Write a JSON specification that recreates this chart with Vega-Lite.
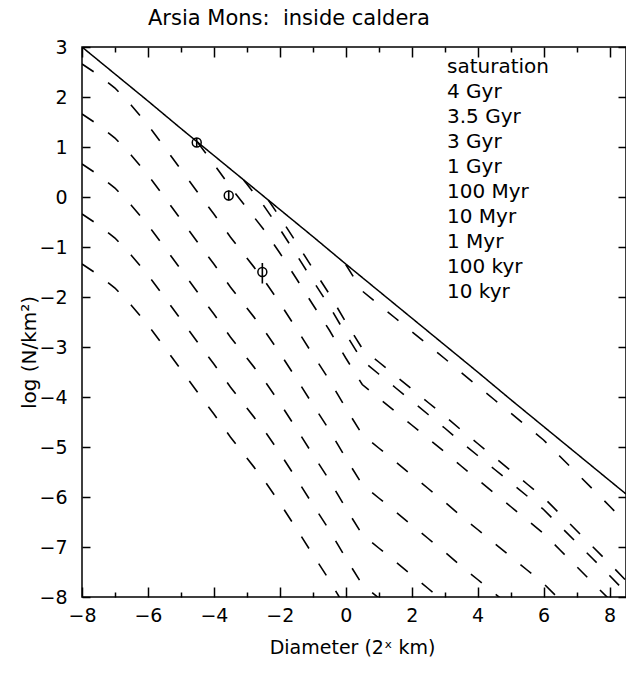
{
  "$schema": "https://vega.github.io/schema/vega-lite/v6.json",
  "width": 544,
  "height": 550,
  "autosize": {"type": "none"},
  "padding": {"left": 82, "top": 47, "right": 0, "bottom": 79},
  "background": "white",
  "title": {"text": "Arsia Mons:\u00a0 inside caldera", "anchor": "start", "frame": "group", "dx": 66, "offset": 0, "dy": 12, "baseline": "bottom", "fontSize": 21, "font": "DejaVu Sans", "fontWeight": "normal", "color": "black"},
  "config": {
    "view": {"stroke": "black", "strokeWidth": 1.5},
    "axis": {"domain": false, "grid": false, "tickColor": "black", "tickWidth": 1.5, "labelColor": "black", "labelFont": "DejaVu Sans", "labelFontSize": 19, "titleFont": "DejaVu Sans", "titleFontSize": 19, "titleFontWeight": "normal", "titleColor": "black", "labelFlush": false, "labelOverlap": false}
  },
  "datasets": {
    "sat": [
      {"x": -8, "y": 3.0, "series": "saturation"},
      {"x": -7, "y": 2.46, "series": "saturation"},
      {"x": -6, "y": 1.92, "series": "saturation"},
      {"x": -5, "y": 1.37, "series": "saturation"},
      {"x": -4, "y": 0.83, "series": "saturation"},
      {"x": -3, "y": 0.29, "series": "saturation"},
      {"x": -2, "y": -0.25, "series": "saturation"},
      {"x": -1, "y": -0.79, "series": "saturation"},
      {"x": 0, "y": -1.34, "series": "saturation"},
      {"x": 1, "y": -1.88, "series": "saturation"},
      {"x": 2, "y": -2.42, "series": "saturation"},
      {"x": 3, "y": -2.96, "series": "saturation"},
      {"x": 4, "y": -3.5, "series": "saturation"},
      {"x": 5, "y": -4.05, "series": "saturation"},
      {"x": 6, "y": -4.59, "series": "saturation"},
      {"x": 7, "y": -5.13, "series": "saturation"},
      {"x": 8, "y": -5.67, "series": "saturation"},
      {"x": 8.5, "y": -5.94, "series": "saturation"}
    ],
    "iso": [
      {"x": 0, "y": -1.35, "series": "4 Gyr"},
      {"x": 0.5, "y": -1.88, "series": "4 Gyr"},
      {"x": 1, "y": -2.15, "series": "4 Gyr"},
      {"x": 1.5, "y": -2.42, "series": "4 Gyr"},
      {"x": 2, "y": -2.69, "series": "4 Gyr"},
      {"x": 2.5, "y": -2.96, "series": "4 Gyr"},
      {"x": 3, "y": -3.23, "series": "4 Gyr"},
      {"x": 3.5, "y": -3.51, "series": "4 Gyr"},
      {"x": 4, "y": -3.78, "series": "4 Gyr"},
      {"x": 4.5, "y": -4.05, "series": "4 Gyr"},
      {"x": 5, "y": -4.32, "series": "4 Gyr"},
      {"x": 5.5, "y": -4.59, "series": "4 Gyr"},
      {"x": 6, "y": -4.86, "series": "4 Gyr"},
      {"x": 6.5, "y": -5.19, "series": "4 Gyr"},
      {"x": 7, "y": -5.52, "series": "4 Gyr"},
      {"x": 7.5, "y": -5.85, "series": "4 Gyr"},
      {"x": 8, "y": -6.18, "series": "4 Gyr"},
      {"x": 8.5, "y": -6.52, "series": "4 Gyr"},

      {"x": -2.35, "y": -0.06, "series": "3.5 Gyr"},
      {"x": -2, "y": -0.4, "series": "3.5 Gyr"},
      {"x": -1.5, "y": -0.91, "series": "3.5 Gyr"},
      {"x": -1, "y": -1.43, "series": "3.5 Gyr"},
      {"x": -0.5, "y": -1.94, "series": "3.5 Gyr"},
      {"x": 0, "y": -2.5, "series": "3.5 Gyr"},
      {"x": 0.5, "y": -3.03, "series": "3.5 Gyr"},
      {"x": 1, "y": -3.3, "series": "3.5 Gyr"},
      {"x": 1.5, "y": -3.57, "series": "3.5 Gyr"},
      {"x": 2, "y": -3.84, "series": "3.5 Gyr"},
      {"x": 2.5, "y": -4.11, "series": "3.5 Gyr"},
      {"x": 3, "y": -4.38, "series": "3.5 Gyr"},
      {"x": 3.5, "y": -4.66, "series": "3.5 Gyr"},
      {"x": 4, "y": -4.93, "series": "3.5 Gyr"},
      {"x": 4.5, "y": -5.2, "series": "3.5 Gyr"},
      {"x": 5, "y": -5.47, "series": "3.5 Gyr"},
      {"x": 5.5, "y": -5.74, "series": "3.5 Gyr"},
      {"x": 6, "y": -6.01, "series": "3.5 Gyr"},
      {"x": 6.5, "y": -6.34, "series": "3.5 Gyr"},
      {"x": 7, "y": -6.67, "series": "3.5 Gyr"},
      {"x": 7.5, "y": -7.0, "series": "3.5 Gyr"},
      {"x": 8, "y": -7.33, "series": "3.5 Gyr"},
      {"x": 8.5, "y": -7.67, "series": "3.5 Gyr"},

      {"x": -3.1, "y": 0.34, "series": "3 Gyr"},
      {"x": -3, "y": 0.26, "series": "3 Gyr"},
      {"x": -2.5, "y": -0.16, "series": "3 Gyr"},
      {"x": -2, "y": -0.64, "series": "3 Gyr"},
      {"x": -1.5, "y": -1.15, "series": "3 Gyr"},
      {"x": -1, "y": -1.67, "series": "3 Gyr"},
      {"x": -0.5, "y": -2.18, "series": "3 Gyr"},
      {"x": 0, "y": -2.74, "series": "3 Gyr"},
      {"x": 0.5, "y": -3.27, "series": "3 Gyr"},
      {"x": 1, "y": -3.54, "series": "3 Gyr"},
      {"x": 1.5, "y": -3.81, "series": "3 Gyr"},
      {"x": 2, "y": -4.08, "series": "3 Gyr"},
      {"x": 2.5, "y": -4.35, "series": "3 Gyr"},
      {"x": 3, "y": -4.62, "series": "3 Gyr"},
      {"x": 3.5, "y": -4.9, "series": "3 Gyr"},
      {"x": 4, "y": -5.17, "series": "3 Gyr"},
      {"x": 4.5, "y": -5.44, "series": "3 Gyr"},
      {"x": 5, "y": -5.71, "series": "3 Gyr"},
      {"x": 5.5, "y": -5.98, "series": "3 Gyr"},
      {"x": 6, "y": -6.25, "series": "3 Gyr"},
      {"x": 6.5, "y": -6.58, "series": "3 Gyr"},
      {"x": 7, "y": -6.91, "series": "3 Gyr"},
      {"x": 7.5, "y": -7.24, "series": "3 Gyr"},
      {"x": 8, "y": -7.57, "series": "3 Gyr"},
      {"x": 8.5, "y": -7.91, "series": "3 Gyr"},

      {"x": -4.5, "y": 1.1, "series": "1 Gyr"},
      {"x": -4, "y": 0.66, "series": "1 Gyr"},
      {"x": -3.5, "y": 0.2, "series": "1 Gyr"},
      {"x": -3, "y": -0.22, "series": "1 Gyr"},
      {"x": -2.5, "y": -0.64, "series": "1 Gyr"},
      {"x": -2, "y": -1.12, "series": "1 Gyr"},
      {"x": -1.5, "y": -1.63, "series": "1 Gyr"},
      {"x": -1, "y": -2.15, "series": "1 Gyr"},
      {"x": -0.5, "y": -2.66, "series": "1 Gyr"},
      {"x": 0, "y": -3.22, "series": "1 Gyr"},
      {"x": 0.5, "y": -3.75, "series": "1 Gyr"},
      {"x": 1, "y": -4.02, "series": "1 Gyr"},
      {"x": 1.5, "y": -4.29, "series": "1 Gyr"},
      {"x": 2, "y": -4.56, "series": "1 Gyr"},
      {"x": 2.5, "y": -4.83, "series": "1 Gyr"},
      {"x": 3, "y": -5.1, "series": "1 Gyr"},
      {"x": 3.5, "y": -5.38, "series": "1 Gyr"},
      {"x": 4, "y": -5.65, "series": "1 Gyr"},
      {"x": 4.5, "y": -5.92, "series": "1 Gyr"},
      {"x": 5, "y": -6.19, "series": "1 Gyr"},
      {"x": 5.5, "y": -6.46, "series": "1 Gyr"},
      {"x": 6, "y": -6.73, "series": "1 Gyr"},
      {"x": 6.5, "y": -7.06, "series": "1 Gyr"},
      {"x": 7, "y": -7.39, "series": "1 Gyr"},
      {"x": 7.5, "y": -7.72, "series": "1 Gyr"},
      {"x": 8, "y": -8.05, "series": "1 Gyr"},
      {"x": 8.5, "y": -8.39, "series": "1 Gyr"},

      {"x": -8, "y": 2.66, "series": "100 Myr"},
      {"x": -7.5, "y": 2.44, "series": "100 Myr"},
      {"x": -7, "y": 2.18, "series": "100 Myr"},
      {"x": -6.5, "y": 1.83, "series": "100 Myr"},
      {"x": -6, "y": 1.44, "series": "100 Myr"},
      {"x": -5.5, "y": 1.0, "series": "100 Myr"},
      {"x": -5, "y": 0.55, "series": "100 Myr"},
      {"x": -4.5, "y": 0.1, "series": "100 Myr"},
      {"x": -4, "y": -0.34, "series": "100 Myr"},
      {"x": -3.5, "y": -0.8, "series": "100 Myr"},
      {"x": -3, "y": -1.22, "series": "100 Myr"},
      {"x": -2.5, "y": -1.64, "series": "100 Myr"},
      {"x": -2, "y": -2.12, "series": "100 Myr"},
      {"x": -1.5, "y": -2.63, "series": "100 Myr"},
      {"x": -1, "y": -3.15, "series": "100 Myr"},
      {"x": -0.5, "y": -3.66, "series": "100 Myr"},
      {"x": 0, "y": -4.22, "series": "100 Myr"},
      {"x": 0.5, "y": -4.75, "series": "100 Myr"},
      {"x": 1, "y": -5.02, "series": "100 Myr"},
      {"x": 1.5, "y": -5.29, "series": "100 Myr"},
      {"x": 2, "y": -5.56, "series": "100 Myr"},
      {"x": 2.5, "y": -5.83, "series": "100 Myr"},
      {"x": 3, "y": -6.1, "series": "100 Myr"},
      {"x": 3.5, "y": -6.38, "series": "100 Myr"},
      {"x": 4, "y": -6.65, "series": "100 Myr"},
      {"x": 4.5, "y": -6.92, "series": "100 Myr"},
      {"x": 5, "y": -7.19, "series": "100 Myr"},
      {"x": 5.5, "y": -7.46, "series": "100 Myr"},
      {"x": 6, "y": -7.73, "series": "100 Myr"},
      {"x": 6.5, "y": -8.06, "series": "100 Myr"},

      {"x": -8, "y": 1.66, "series": "10 Myr"},
      {"x": -7.5, "y": 1.44, "series": "10 Myr"},
      {"x": -7, "y": 1.18, "series": "10 Myr"},
      {"x": -6.5, "y": 0.83, "series": "10 Myr"},
      {"x": -6, "y": 0.44, "series": "10 Myr"},
      {"x": -5.5, "y": 0.0, "series": "10 Myr"},
      {"x": -5, "y": -0.45, "series": "10 Myr"},
      {"x": -4.5, "y": -0.9, "series": "10 Myr"},
      {"x": -4, "y": -1.34, "series": "10 Myr"},
      {"x": -3.5, "y": -1.8, "series": "10 Myr"},
      {"x": -3, "y": -2.22, "series": "10 Myr"},
      {"x": -2.5, "y": -2.64, "series": "10 Myr"},
      {"x": -2, "y": -3.12, "series": "10 Myr"},
      {"x": -1.5, "y": -3.63, "series": "10 Myr"},
      {"x": -1, "y": -4.15, "series": "10 Myr"},
      {"x": -0.5, "y": -4.66, "series": "10 Myr"},
      {"x": 0, "y": -5.22, "series": "10 Myr"},
      {"x": 0.5, "y": -5.75, "series": "10 Myr"},
      {"x": 1, "y": -6.02, "series": "10 Myr"},
      {"x": 1.5, "y": -6.29, "series": "10 Myr"},
      {"x": 2, "y": -6.56, "series": "10 Myr"},
      {"x": 2.5, "y": -6.83, "series": "10 Myr"},
      {"x": 3, "y": -7.1, "series": "10 Myr"},
      {"x": 3.5, "y": -7.38, "series": "10 Myr"},
      {"x": 4, "y": -7.65, "series": "10 Myr"},
      {"x": 4.5, "y": -7.92, "series": "10 Myr"},
      {"x": 5, "y": -8.19, "series": "10 Myr"},

      {"x": -8, "y": 0.66, "series": "1 Myr"},
      {"x": -7.5, "y": 0.44, "series": "1 Myr"},
      {"x": -7, "y": 0.18, "series": "1 Myr"},
      {"x": -6.5, "y": -0.17, "series": "1 Myr"},
      {"x": -6, "y": -0.56, "series": "1 Myr"},
      {"x": -5.5, "y": -1.0, "series": "1 Myr"},
      {"x": -5, "y": -1.45, "series": "1 Myr"},
      {"x": -4.5, "y": -1.9, "series": "1 Myr"},
      {"x": -4, "y": -2.34, "series": "1 Myr"},
      {"x": -3.5, "y": -2.8, "series": "1 Myr"},
      {"x": -3, "y": -3.22, "series": "1 Myr"},
      {"x": -2.5, "y": -3.64, "series": "1 Myr"},
      {"x": -2, "y": -4.12, "series": "1 Myr"},
      {"x": -1.5, "y": -4.63, "series": "1 Myr"},
      {"x": -1, "y": -5.15, "series": "1 Myr"},
      {"x": -0.5, "y": -5.66, "series": "1 Myr"},
      {"x": 0, "y": -6.22, "series": "1 Myr"},
      {"x": 0.5, "y": -6.75, "series": "1 Myr"},
      {"x": 1, "y": -7.02, "series": "1 Myr"},
      {"x": 1.5, "y": -7.29, "series": "1 Myr"},
      {"x": 2, "y": -7.56, "series": "1 Myr"},
      {"x": 2.5, "y": -7.83, "series": "1 Myr"},
      {"x": 3, "y": -8.1, "series": "1 Myr"},

      {"x": -8, "y": -0.34, "series": "100 kyr"},
      {"x": -7.5, "y": -0.56, "series": "100 kyr"},
      {"x": -7, "y": -0.82, "series": "100 kyr"},
      {"x": -6.5, "y": -1.17, "series": "100 kyr"},
      {"x": -6, "y": -1.56, "series": "100 kyr"},
      {"x": -5.5, "y": -2.0, "series": "100 kyr"},
      {"x": -5, "y": -2.45, "series": "100 kyr"},
      {"x": -4.5, "y": -2.9, "series": "100 kyr"},
      {"x": -4, "y": -3.34, "series": "100 kyr"},
      {"x": -3.5, "y": -3.8, "series": "100 kyr"},
      {"x": -3, "y": -4.22, "series": "100 kyr"},
      {"x": -2.5, "y": -4.64, "series": "100 kyr"},
      {"x": -2, "y": -5.12, "series": "100 kyr"},
      {"x": -1.5, "y": -5.63, "series": "100 kyr"},
      {"x": -1, "y": -6.15, "series": "100 kyr"},
      {"x": -0.5, "y": -6.66, "series": "100 kyr"},
      {"x": 0, "y": -7.22, "series": "100 kyr"},
      {"x": 0.5, "y": -7.75, "series": "100 kyr"},
      {"x": 1, "y": -8.02, "series": "100 kyr"},

      {"x": -8, "y": -1.34, "series": "10 kyr"},
      {"x": -7.5, "y": -1.56, "series": "10 kyr"},
      {"x": -7, "y": -1.82, "series": "10 kyr"},
      {"x": -6.5, "y": -2.17, "series": "10 kyr"},
      {"x": -6, "y": -2.56, "series": "10 kyr"},
      {"x": -5.5, "y": -3.0, "series": "10 kyr"},
      {"x": -5, "y": -3.45, "series": "10 kyr"},
      {"x": -4.5, "y": -3.9, "series": "10 kyr"},
      {"x": -4, "y": -4.34, "series": "10 kyr"},
      {"x": -3.5, "y": -4.8, "series": "10 kyr"},
      {"x": -3, "y": -5.22, "series": "10 kyr"},
      {"x": -2.5, "y": -5.64, "series": "10 kyr"},
      {"x": -2, "y": -6.12, "series": "10 kyr"},
      {"x": -1.5, "y": -6.63, "series": "10 kyr"},
      {"x": -1, "y": -7.15, "series": "10 kyr"},
      {"x": -0.5, "y": -7.66, "series": "10 kyr"},
      {"x": 0, "y": -8.22, "series": "10 kyr"}
    ],
    "pts": [
      {"x": -4.52, "y": 1.09, "lo": 1.0, "hi": 1.18},
      {"x": -3.55, "y": 0.03, "lo": -0.07, "hi": 0.13},
      {"x": -2.53, "y": -1.5, "lo": -1.73, "hi": -1.32}
    ]
  },
  "layer": [
    {
      "data": {"name": "sat"},
      "mark": {"type": "line", "color": "black", "strokeWidth": 1.5, "clip": true},
      "encoding": {
        "x": {"field": "x", "type": "quantitative", "scale": {"domain": [-8, 8.5], "nice": false, "zero": false},
          "axis": {"orient": "bottom", "values": [-8, -6, -4, -2, 0, 2, 4, 6, 8], "tickSize": -10, "labelPadding": 19, "title": "Diameter (2\u02e3 km)", "titleX": 270, "titleY": 50, "titleBaseline": "middle"}},
        "y": {"field": "y", "type": "quantitative", "scale": {"domain": [-8, 3], "nice": false, "zero": false},
          "axis": {"orient": "left", "values": [-8, -7, -6, -5, -4, -3, -2, -1, 0, 1, 2, 3], "tickSize": -8, "labelPadding": 23, "title": "log (N/km\u00b2)", "titleX": -53, "titleY": 305, "titleBaseline": "middle", "titleAngle": 270, "titleFontSize": 20}},
        "strokeDash": {"field": "series", "type": "nominal",
          "scale": {"domain": ["saturation", "4 Gyr", "3.5 Gyr", "3 Gyr", "1 Gyr", "100 Myr", "10 Myr", "1 Myr", "100 kyr", "10 kyr"],
            "range": [[1, 0], [14, 18], [14, 18], [14, 18], [14, 18], [14, 18], [14, 18], [14, 18], [14, 18], [14, 18]]},
          "legend": {"orient": "none", "legendX": 345, "legendY": 10, "title": null, "padding": 0, "symbolOpacity": 0, "symbolSize": 0, "symbolStrokeWidth": 0, "labelOffset": 0, "labelFont": "DejaVu Sans", "labelFontSize": 20, "labelColor": "black", "rowPadding": 5}}
      }
    },
    {
      "data": {"name": "iso"},
      "mark": {"type": "line", "color": "black", "strokeWidth": 1.6, "clip": true},
      "encoding": {
        "x": {"field": "x", "type": "quantitative", "scale": {"domain": [-8, 8.5], "nice": false, "zero": false},
          "axis": {"orient": "top", "values": [-8, -6, -4, -2, 0, 2, 4, 6, 8], "tickSize": -10, "labels": false, "title": null}},
        "y": {"field": "y", "type": "quantitative", "scale": {"domain": [-8, 3], "nice": false, "zero": false},
          "axis": {"orient": "right", "values": [-8, -7, -6, -5, -4, -3, -2, -1, 0, 1, 2, 3], "tickSize": -8, "labels": false, "title": null}},
        "strokeDash": {"field": "series", "type": "nominal",
          "scale": {"domain": ["saturation", "4 Gyr", "3.5 Gyr", "3 Gyr", "1 Gyr", "100 Myr", "10 Myr", "1 Myr", "100 kyr", "10 kyr"],
            "range": [[1, 0], [14, 18], [14, 18], [14, 18], [14, 18], [14, 18], [14, 18], [14, 18], [14, 18], [14, 18]]},
          "legend": {"orient": "none", "legendX": 345, "legendY": 10, "title": null, "padding": 0, "symbolOpacity": 0, "symbolSize": 0, "symbolStrokeWidth": 0, "labelOffset": 0, "labelFont": "DejaVu Sans", "labelFontSize": 20, "labelColor": "black", "rowPadding": 5}}
      }
    },
    {
      "data": {"name": "pts"},
      "mark": {"type": "rule", "color": "black", "strokeWidth": 1.6},
      "encoding": {
        "x": {"field": "x", "type": "quantitative", "scale": {"domain": [-8, 8.5], "nice": false, "zero": false},
          "axis": {"orient": "bottom", "values": [-7, -5, -3, -1, 1, 3, 5, 7], "tickSize": -5, "labels": false, "title": null}},
        "y": {"field": "lo", "type": "quantitative", "scale": {"domain": [-8, 3], "nice": false, "zero": false}, "axis": null},
        "y2": {"field": "hi"}
      }
    },
    {
      "data": {"name": "pts"},
      "mark": {"type": "point", "shape": "circle", "filled": false, "color": "black", "strokeWidth": 1.5, "size": 80, "opacity": 1},
      "encoding": {
        "x": {"field": "x", "type": "quantitative", "scale": {"domain": [-8, 8.5], "nice": false, "zero": false},
          "axis": {"orient": "top", "values": [-7, -5, -3, -1, 1, 3, 5, 7], "tickSize": -5, "labels": false, "title": null}},
        "y": {"field": "y", "type": "quantitative", "scale": {"domain": [-8, 3], "nice": false, "zero": false}, "axis": null}
      }
    }
  ],
  "resolve": {"axis": {"x": "independent", "y": "independent"}}
}
